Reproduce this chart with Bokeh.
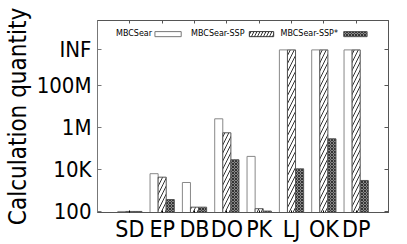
from bokeh.plotting import figure
from bokeh.models import (Range1d, FixedTicker, LogAxis, LinearAxis, Label,
                          BoxAnnotation, ColumnDataSource)
from bokeh.transform import dodge
from bokeh.embed import file_html
from bokeh.resources import INLINE

# ---------------- data ----------------
datasets = ["SD", "EP", "DB", "DO", "PK", "LJ", "OK", "DP"]
INF = 5e9
mbcsear     = [100, 6300, 2400, 2.6e6, 4.2e4, INF, INF, INF]
mbcsear_ssp = [100, 4300, 160, 5.6e5, 135, INF, INF, INF]
mbcsear_ssp_star = [100, 370, 160, 2.9e4, 104, 1.07e4, 2.9e5, 3000]

y_ticks = [1e2, 1e4, 1e6, 1e8, INF]
y_tick_labels = ["100", "10K", "1M", "100M", "INF"]

FONT = "DejaVu Sans Condensed"
SMALL = "DejaVu Sans"

xpos = [i + 1 for i in range(len(datasets))]

p = figure(width=407, height=244, y_axis_type="log",
           x_range=Range1d(0, len(datasets) + 1),
           y_range=Range1d(10 ** 1.95, 10 ** 11.1),
           output_backend="svg", toolbar_location=None,
           min_border_left=89, min_border_right=19,
           min_border_top=20, min_border_bottom=32)
p.grid.visible = False
p.outline_line_color = "#555555"
p.background_fill_color = "white"
p.border_fill_color = "white"

w = 0.25
src = ColumnDataSource(dict(x=xpos, a=mbcsear, b=mbcsear_ssp, c=mbcsear_ssp_star))
p.vbar(x=dodge("x", -w, range=p.x_range), top="a", bottom=1, width=w, source=src,
       fill_color="white", line_color="#888888", line_width=1)
p.vbar(x=dodge("x", 0, range=p.x_range), top="b", bottom=1, width=w, source=src,
       fill_color="white", line_color="#555555", line_width=1,
       hatch_pattern="/", hatch_color="#333333", hatch_scale=8, hatch_weight=1)
p.vbar(x=dodge("x", w, range=p.x_range), top="c", bottom=1, width=w, source=src,
       fill_color="#8a8a8a", line_color="#555555", line_width=1,
       hatch_pattern="x", hatch_color="#333333", hatch_scale=3, hatch_weight=1)

# ---- axes ----
xa = p.xaxis[0]
xa.ticker = FixedTicker(ticks=xpos)
xa.major_label_overrides = {x: d for x, d in zip(xpos, datasets)}
xa.major_tick_in = 2
xa.major_tick_out = 0
xa.minor_tick_line_color = None
xa.major_label_standoff = 3
xa.major_label_text_font = FONT
xa.major_label_text_font_size = "23px"
xa.major_label_text_color = "black"
xa.axis_line_color = "#555555"

ya = p.yaxis[0]
ya.ticker = FixedTicker(ticks=y_ticks)
ya.major_label_overrides = {t: l for t, l in zip(y_ticks, y_tick_labels)}
ya.major_tick_in = 4
ya.major_tick_out = 0
ya.minor_tick_line_color = None
ya.major_label_standoff = 6
ya.major_label_text_font = FONT
ya.major_label_text_font_size = "22px"
ya.major_label_text_color = "black"
ya.axis_line_color = "#777777"
ya.major_tick_line_color = "#777777"
ya.axis_label = "Calculation quantity"
ya.axis_label_text_font = FONT
ya.axis_label_text_font_size = "24px"
ya.axis_label_text_font_style = "normal"
ya.axis_label_standoff = 2
ya.axis_label_text_color = "black"

ry = LogAxis(ticker=FixedTicker(ticks=y_ticks), major_tick_in=4, major_tick_out=0,
             minor_tick_line_color=None, major_label_text_font_size="1px",
             major_label_text_alpha=0,
             major_label_standoff=0, axis_line_color="#555555",
             major_tick_line_color="#555555")
p.add_layout(ry, "right")
tx = LinearAxis(ticker=FixedTicker(ticks=xpos), major_tick_in=3, major_tick_out=0,
                minor_tick_line_color=None, major_label_text_font_size="1px",
                major_label_text_alpha=0,
                major_label_standoff=0, axis_line_color="#555555",
                major_tick_line_color="#555555")
p.add_layout(tx, "above")

# ---- legend (gnuplot style: label then swatch) ----
leg_labels = ["MBCSear", "MBCSear-SSP", "MBCSear-SSP*"]
leg_text_right = [1.686, 4.545, 7.435]
leg_sw_left = [1.776, 4.696, 7.616]
leg_sw_right = [2.589, 5.449, 8.338]
leg_y = 10 ** 10.47
sw_top, sw_bot = 10 ** 10.57, 10 ** 10.33
styles = [dict(fill_color="white", line_color="#777777"),
          dict(fill_color="white", line_color="#333333", hatch_pattern="/",
               hatch_color="#333333", hatch_scale=6, hatch_weight=1),
          dict(fill_color="#8a8a8a", line_color="#555555", hatch_pattern="x",
               hatch_color="#333333", hatch_scale=3, hatch_weight=1)]
for lab, xr, sl, sr, st in zip(leg_labels, leg_text_right, leg_sw_left, leg_sw_right, styles):
    p.add_layout(Label(x=xr, y=leg_y, text=lab, text_align="right",
                       text_baseline="middle", text_font=SMALL,
                       text_font_size="8px", text_color="black"))
    p.add_layout(BoxAnnotation(left=sl, right=sr, top=sw_top, bottom=sw_bot,
                               fill_alpha=1, line_width=1, line_alpha=1, **st))

open("out.html", "w").write(file_html(p, INLINE))
